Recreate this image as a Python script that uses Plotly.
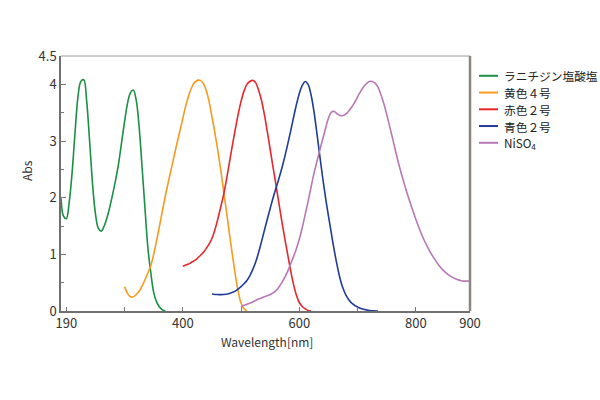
import plotly.graph_objects as go

# ---------------- data ----------------
names = ["ラニチジン塩酸塩", "黄色４号", "赤色２号", "青色２号", "NiSO<sub>4</sub>"]
colors = ["#1a9044", "#f79a1e", "#e8262b", "#1f3c96", "#b878b6"]

ran_x = [191, 195, 200, 205, 210, 215, 220, 225, 230, 235, 240, 245, 250, 255, 260, 265, 270, 275, 280,
         285, 290, 295, 300, 305, 310, 315, 320, 325, 330, 335, 340, 345, 350, 355, 360, 365, 370]
ran_y = [1.99, 1.68, 1.63, 1.92, 2.45, 3.15, 3.78, 4.05, 4.08, 3.7, 3.0, 2.25, 1.72, 1.46, 1.41, 1.5, 1.65, 1.85, 2.08,
         2.33, 2.62, 2.98, 3.34, 3.66, 3.85, 3.9, 3.72, 3.25, 2.55, 1.82, 1.12, 0.68, 0.33, 0.16, 0.07, 0.02, 0.0]

y4_x = [300, 305, 310, 315, 320, 325, 330, 335, 340, 345, 350, 355, 360, 365, 370, 375, 380, 385, 390, 395, 400,
        405, 410, 415, 420, 425, 430, 435, 440, 445, 450, 455, 460, 465, 470, 475, 480, 485, 490, 495, 500, 505, 510]
y4_y = [0.43, 0.31, 0.25, 0.25, 0.29, 0.35, 0.44, 0.55, 0.67, 0.8, 1.0, 1.24, 1.5, 1.77, 2.03, 2.27, 2.5, 2.73, 2.96,
        3.18, 3.4, 3.62, 3.8, 3.94, 4.03, 4.07, 4.07, 4.02, 3.9, 3.7, 3.43, 3.15, 2.84, 2.5, 2.12, 1.75, 1.37, 1.0,
        0.65, 0.35, 0.14, 0.04, 0.0]

r2_x = [400, 405, 410, 415, 420, 425, 430, 435, 440, 445, 450, 455, 460, 465, 470, 475, 480, 485, 490, 495, 500,
        505, 510, 515, 520, 525, 530, 535, 540, 545, 550, 555, 560, 565, 570, 575, 580, 585, 590, 595, 600, 605,
        610, 615, 620]
r2_y = [0.79, 0.81, 0.83, 0.86, 0.89, 0.93, 0.98, 1.03, 1.1, 1.18, 1.28, 1.43, 1.62, 1.83, 2.05, 2.32, 2.62, 2.92,
        3.2, 3.47, 3.7, 3.88, 4.0, 4.05, 4.07, 4.03, 3.9, 3.72, 3.47, 3.17, 2.85, 2.53, 2.22, 1.9, 1.58, 1.28, 1.0,
        0.72, 0.47, 0.28, 0.15, 0.08, 0.04, 0.01, 0.0]

b2_x = [450, 460, 470, 480, 490, 500, 505, 510, 515, 520, 525, 530, 535, 540, 545, 550, 555, 560, 565, 570, 575,
        580, 585, 590, 595, 600, 605, 610, 615, 620, 625, 630, 635, 640, 645, 650, 655, 660, 665, 670, 675, 680,
        685, 690, 700, 710, 720, 735]
b2_y = [0.3, 0.29, 0.29, 0.31, 0.35, 0.43, 0.48, 0.54, 0.62, 0.73, 0.86, 1.03, 1.22, 1.42, 1.62, 1.81, 2.0, 2.17,
        2.34, 2.52, 2.72, 2.94, 3.17, 3.41, 3.64, 3.84, 3.98, 4.05, 4.0, 3.82, 3.53, 3.15, 2.75, 2.36, 2.0, 1.68,
        1.37, 1.07, 0.8, 0.57, 0.4, 0.28, 0.2, 0.14, 0.07, 0.03, 0.01, 0.0]

ni_x = [500, 510, 520, 530, 540, 550, 560, 570, 580, 585, 590, 595, 600, 605, 610, 615, 620, 625, 630, 635, 640,
        645, 650, 655, 660, 665, 670, 675, 680, 685, 690, 695, 700, 705, 710, 715, 720, 725, 730, 735, 740, 745,
        750, 760, 770, 780, 790, 800, 810, 820, 830, 840, 850, 860, 870, 880, 893]
ni_y = [0.08, 0.12, 0.16, 0.21, 0.25, 0.29, 0.36, 0.5, 0.7, 0.83, 0.96, 1.1, 1.27, 1.47, 1.7, 1.93, 2.18, 2.42,
        2.63, 2.83, 3.03, 3.22, 3.4, 3.51, 3.52, 3.48, 3.45, 3.45, 3.48, 3.53, 3.6, 3.68, 3.78, 3.87, 3.95, 4.01,
        4.05, 4.05, 4.02, 3.95, 3.82, 3.66, 3.47, 3.05, 2.62, 2.25, 1.92, 1.62, 1.35, 1.13, 0.95, 0.8, 0.69, 0.61,
        0.56, 0.53, 0.53]

series_x = [ran_x, y4_x, r2_x, b2_x, ni_x]
series_y = [ran_y, y4_y, r2_y, b2_y, ni_y]

x_tickvals = [200, 400, 600, 800, 893]
x_ticktext = ["190", "400", "600", "800", "900"]
y_tickvals = [0, 1, 2, 3, 4, 4.5]
y_ticktext = ["0", "1", "2", "3", "4", "4.5"]

# ---------------- figure ----------------
W, H = 600, 400
L, R, T, B = 61, 130, 56, 89
pw, ph = W - L - R, H - T - B
FONT = "Noto Sans CJK JP"

def px(xp):
    return (xp - L) / pw

def py(yp):
    return (H - B - yp) / ph

fig = go.Figure()
for n, c, xs, ys in zip(names, colors, series_x, series_y):
    fig.add_trace(go.Scatter(x=xs, y=ys, mode="lines", name=n,
                             line=dict(color=c, width=1.6, shape="spline", smoothing=1.0),
                             showlegend=False, hoverinfo="skip"))

shapes = [
    dict(type="line", xref="paper", yref="paper", x0=0, x1=1, y0=1, y1=1,
         line=dict(color="#9a9a9a", width=1)),
    dict(type="line", xref="paper", yref="paper", x0=1, x1=1, y0=0, y1=1,
         line=dict(color="#8a8580", width=2.5)),
]
annotations = []
row0, step = 75.8, 16.75
for i, (n, c) in enumerate(zip(names, colors)):
    yy = py(row0 + i * step)
    shapes.append(dict(type="line", xref="paper", yref="paper", x0=px(479), x1=px(498), y0=yy, y1=yy,
                       line=dict(color=c, width=2)))
    annotations.append(dict(x=px(501.5), y=yy, xref="paper", yref="paper", text=n, showarrow=False,
                            xanchor="left", yanchor="middle",
                            font=dict(family=FONT, size=11.7, color="#222222")))

annotations.append(dict(x=px(26), y=py(171), xref="paper", yref="paper", text="Abs", showarrow=False,
                        textangle=-90, xanchor="center", yanchor="middle",
                        font=dict(family=FONT, size=12, color="#333333")))
annotations.append(dict(x=px(267), y=py(341), xref="paper", yref="paper", text="Wavelength[nm]",
                        showarrow=False, xanchor="center", yanchor="middle",
                        font=dict(family=FONT, size=12, color="#333333")))

fig.update_layout(
    width=W, height=H, margin=dict(l=L, r=R, t=T, b=B),
    paper_bgcolor="white", plot_bgcolor="white",
    font=dict(family=FONT, color="#333333"),
    shapes=shapes, annotations=annotations, showlegend=False,
    xaxis=dict(range=[190.9, 893], tickvals=x_tickvals, ticktext=x_ticktext,
               ticks="inside", ticklen=4, tickcolor="#777777", showgrid=False, zeroline=False,
               showline=True, linecolor="#707070", linewidth=1.5,
               minor=dict(tickvals=[300, 500, 700], ticks="inside", ticklen=4, tickcolor="#777777"),
               tickfont=dict(family=FONT, size=13, color="#333333")),
    yaxis=dict(range=[0, 4.5], tickvals=y_tickvals, ticktext=y_ticktext,
               ticks="inside", ticklen=5, tickcolor="#777777", showgrid=False, zeroline=False,
               showline=True, linecolor="#707070", linewidth=1.5,
               minor=dict(tickvals=[0.5, 1.5, 2.5, 3.5], ticks="inside", ticklen=3, tickcolor="#777777"),
               tickfont=dict(family=FONT, size=13, color="#333333")),
)

fig.write_html("out.html")
